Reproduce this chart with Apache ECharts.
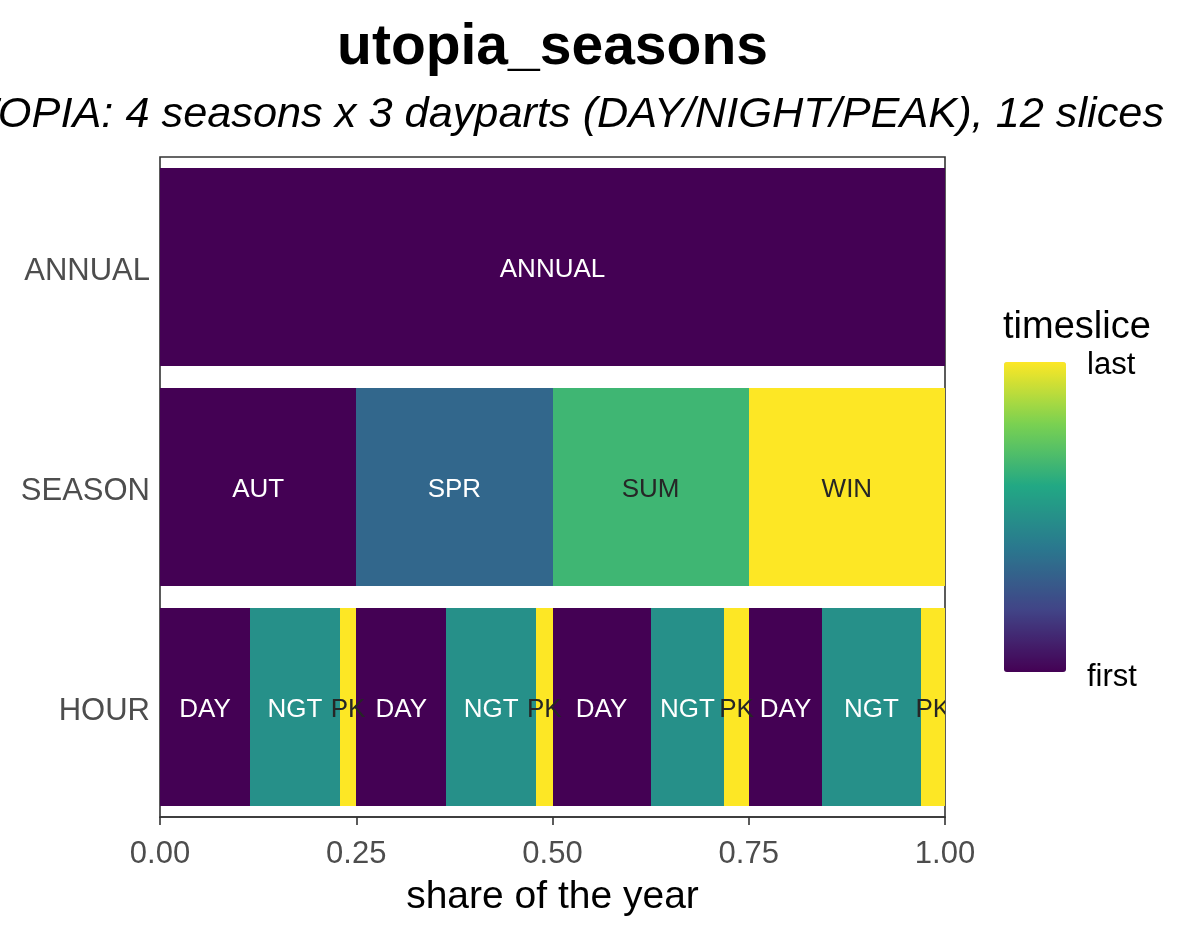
<!DOCTYPE html>
<html><head><meta charset="utf-8">
<script src="https://cdn.jsdelivr.net/npm/echarts@6/dist/echarts.min.js"></script>
<style>html,body{margin:0;padding:0;background:#fff}#chart{width:1196px;height:936px}</style>
</head><body><div id="chart"></div>
<script>
// ---- data ----
const levels = ['HOUR', 'SEASON', 'ANNUAL'];
const annualLabels = ['ANNUAL'];
const annualShares = [1.0];
const annualRank = [0];
const seasonLabels = ['AUT', 'SPR', 'SUM', 'WIN'];
const seasonShares = [0.25, 0.25, 0.25, 0.25];
const seasonRank = [0, 0.333, 0.667, 1];
const hourLabels = ['DAY', 'NGT', 'PK', 'DAY', 'NGT', 'PK', 'DAY', 'NGT', 'PK', 'DAY', 'NGT', 'PK'];
const hourShares = [0.1146, 0.1146, 0.0208, 0.1146, 0.1146, 0.0208, 0.125, 0.0938, 0.0312, 0.0938, 0.125, 0.0312];
const hourRank = [0, 0.5, 1, 0, 0.5, 1, 0, 0.5, 1, 0, 0.5, 1];
const xTicks = [0, 0.25, 0.5, 0.75, 1];
const viridis = ['#440154', '#414487', '#2A788E', '#22A884', '#7AD151', '#FDE725'];

function rowData(level, labels, shares, ranks) {
  let acc = 0;
  const yi = levels.indexOf(level);
  return labels.map((l, i) => { const s = acc; acc += shares[i]; return [s, acc, yi, ranks[i], l]; });
}
const data = [].concat(
  rowData('HOUR', hourLabels, hourShares, hourRank),
  rowData('SEASON', seasonLabels, seasonShares, seasonRank),
  rowData('ANNUAL', annualLabels, annualShares, annualRank)
);

const FONT = '"Liberation Sans", Arial, Helvetica, sans-serif';
const chart = echarts.init(document.getElementById('chart'), null, {renderer: 'canvas'});
chart.setOption({
  animation: false,
  backgroundColor: '#ffffff',
  grid: {left: 160, right: 251, top: 157, bottom: 119, show: true, borderColor: '#333333', borderWidth: 1.6, backgroundColor: 'transparent'},
  xAxis: {
    type: 'value', min: 0, max: 1, interval: 0.25,
    axisLine: {show: true, lineStyle: {color: '#333333', width: 1.6}},
    axisTick: {show: true, length: 8, lineStyle: {color: '#333333', width: 1.6}},
    splitLine: {show: false},
    axisLabel: {fontFamily: FONT, fontSize: 31, color: '#4D4D4D', margin: 22,
      formatter: v => (xTicks.indexOf(v) >= 0 ? v.toFixed(2) : '')},
    name: 'share of the year', nameLocation: 'middle', nameGap: 61,
    nameTextStyle: {fontFamily: FONT, fontSize: 39, color: '#000000'}
  },
  yAxis: {
    type: 'category', data: levels,
    axisLine: {show: false}, axisTick: {show: false}, splitLine: {show: false},
    axisLabel: {fontFamily: FONT, fontSize: 31, color: '#4D4D4D', margin: 10, verticalAlign: 'top', lineHeight: 8}
  },
  visualMap: {
    type: 'continuous', min: 0, max: 1, dimension: 3, seriesIndex: 0,
    calculable: false, hoverLink: false, orient: 'vertical',
    left: 1004, top: 362, itemWidth: 62, itemHeight: 310, padding: 0,
    inRange: {color: viridis}
  },
  graphic: [
    {type: 'text', x: 552.5, y: 48, style: {text: 'utopia_seasons', font: 'bold 57px ' + FONT, fill: '#000', align: 'center', verticalAlign: 'middle', textAlign: 'center', textVerticalAlign: 'middle'}},
    {type: 'text', x: 552.5, y: 115, style: {text: 'UTOPIA: 4 seasons x 3 dayparts (DAY/NIGHT/PEAK), 12 slices', font: 'italic 43.3px ' + FONT, fill: '#000', align: 'center', verticalAlign: 'middle', textAlign: 'center', textVerticalAlign: 'middle'}},
    {type: 'text', x: 1003, y: 328, style: {text: 'timeslice', font: '38px ' + FONT, fill: '#000', align: 'left', verticalAlign: 'middle', textAlign: 'left', textVerticalAlign: 'middle'}},
    {type: 'text', x: 1087, y: 365, style: {text: 'last', font: '31px ' + FONT, fill: '#000', align: 'left', verticalAlign: 'middle', textAlign: 'left', textVerticalAlign: 'middle'}},
    {type: 'text', x: 1087, y: 677, style: {text: 'first', font: '31px ' + FONT, fill: '#000', align: 'left', verticalAlign: 'middle', textAlign: 'left', textVerticalAlign: 'middle'}}
  ],
  series: [{
    type: 'custom',
    clip: true,
    encode: {x: [0, 1], y: 2},
    data: data,
    renderItem: function (params, api) {
      const yi = api.value(2);
      const p0 = api.coord([api.value(0), yi]);
      const p1 = api.coord([api.value(1), yi]);
      const h = api.size([0, 1])[1] * 0.9;
      const rank = api.value(3);
      const label = data[params.dataIndex][4];
      const x0 = Math.round(p0[0]), x1 = Math.round(p1[0]);
      return {
        type: 'group',
        children: [
          {type: 'rect', z2: 0, shape: {x: x0, y: Math.round(p0[1] - h / 2), width: x1 - x0, height: Math.round(h)}, style: {fill: api.visual('color')}},
          {type: 'text', z2: 10, x: (p0[0] + p1[0]) / 2, y: p0[1] + 3, style: {text: label, fill: rank > 0.6 ? '#262626' : '#ffffff', font: '26px ' + FONT, align: 'center', verticalAlign: 'middle'}}
        ]
      };
    }
  }]
});
</script>
</body></html>
